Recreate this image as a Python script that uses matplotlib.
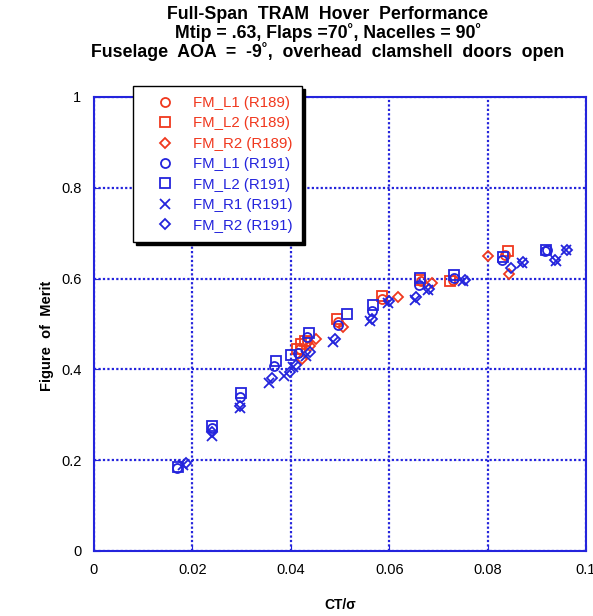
import matplotlib.pyplot as plt

plt.rcParams['font.family'] = ['Liberation Sans', 'DejaVu Sans']

RED = '#f0381e'
BLUE = '#2424dc'

# R189 run
l1_r189_x = [0.0418, 0.0432, 0.0495, 0.0585, 0.0665, 0.0730, 0.0835]
l1_r189_y = [0.445, 0.462, 0.505, 0.556, 0.595, 0.598, 0.652]
l2_r189_x = [0.0412, 0.0420, 0.0428, 0.0493, 0.0586, 0.0663, 0.0723, 0.0842]
l2_r189_y = [0.444, 0.455, 0.462, 0.511, 0.562, 0.597, 0.595, 0.661]
r2_r189_x = [0.0422, 0.0440, 0.0452, 0.0506, 0.0617, 0.0686, 0.0800, 0.0843]
r2_r189_y = [0.422, 0.452, 0.466, 0.494, 0.560, 0.590, 0.650, 0.610]

# R191 run
l1_r191_x = [0.0168, 0.0240, 0.0297, 0.0366, 0.0415, 0.0433, 0.0496, 0.0565,
             0.0660, 0.0731, 0.0829, 0.0916, 0.0920]
l1_r191_y = [0.182, 0.272, 0.339, 0.407, 0.436, 0.472, 0.497, 0.528,
             0.587, 0.601, 0.642, 0.660, 0.662]
l2_r191_x = [0.0170, 0.0240, 0.0298, 0.0370, 0.0400, 0.0437, 0.0514, 0.0567,
             0.0663, 0.0732, 0.0831, 0.0918]
l2_r191_y = [0.186, 0.276, 0.348, 0.418, 0.432, 0.481, 0.523, 0.542,
             0.601, 0.609, 0.648, 0.663]
r1_r191_x = [0.0180, 0.0240, 0.0297, 0.0356, 0.0386, 0.0405, 0.0430, 0.0485,
             0.0560, 0.0597, 0.0652, 0.0678, 0.0750, 0.0870, 0.0940, 0.0960]
r1_r191_y = [0.190, 0.253, 0.316, 0.371, 0.385, 0.405, 0.430, 0.460,
             0.506, 0.547, 0.553, 0.574, 0.594, 0.634, 0.638, 0.664]
r2_r191_x = [0.0187, 0.0240, 0.0297, 0.0362, 0.0398, 0.0410, 0.0440, 0.0490,
             0.0565, 0.0600, 0.0655, 0.0680, 0.0755, 0.0847, 0.0872, 0.0937, 0.0962]
r2_r191_y = [0.194, 0.262, 0.320, 0.380, 0.394, 0.410, 0.438, 0.468,
             0.510, 0.550, 0.560, 0.578, 0.598, 0.624, 0.636, 0.641, 0.662]

series = [
    (l1_r189_x, l1_r189_y, 'o', RED, 'FM_L1 (R189)'),
    (l2_r189_x, l2_r189_y, 's', RED, 'FM_L2 (R189)'),
    (r2_r189_x, r2_r189_y, 'D', RED, 'FM_R2 (R189)'),
    (l1_r191_x, l1_r191_y, 'o', BLUE, 'FM_L1 (R191)'),
    (l2_r191_x, l2_r191_y, 's', BLUE, 'FM_L2 (R191)'),
    (r1_r191_x, r1_r191_y, 'x', BLUE, 'FM_R1 (R191)'),
    (r2_r191_x, r2_r191_y, 'D', BLUE, 'FM_R2 (R191)'),
]

fig = plt.figure(figsize=(5.93, 6.16), dpi=100)
ax = fig.add_axes([94 / 593, 1 - 551 / 616, 492 / 593, 454 / 616])

for x, y, m, c, lab in series:
    ms = 5 if m == 'D' else 6.5
    ax.plot(x, y, linestyle='none', marker=m, markersize=ms, markerfacecolor='none',
            markeredgecolor=c, markeredgewidth=1.3, label=lab, zorder=3)

ax.set_xlim(0, 0.1)
ax.set_ylim(0, 1)
ax.set_xticks([0, 0.02, 0.04, 0.06, 0.08, 0.1])
ax.set_xticklabels(['0', '0.02', '0.04', '0.06', '0.08', '0.1'])
ax.set_yticks([0, 0.2, 0.4, 0.6, 0.8, 1])
ax.set_yticklabels(['0', '0.2', '0.4', '0.6', '0.8', '1'])
ax.grid(True, color=BLUE, linestyle=(0, (1, 1)), linewidth=1.6)
for s in ax.spines.values():
    s.set_color(BLUE)
    s.set_linewidth(1.5)
ax.tick_params(direction='in', length=4, color=BLUE, labelsize=10.5, pad=9)

ax.set_xlabel('CT/σ', fontsize=10, fontweight='bold', labelpad=15)
ax.set_ylabel('Figure  of  Merit', fontsize=10.5, fontweight='bold')
ax.yaxis.set_label_coords(-0.082, 0.474)
fig.text(0.553, 0.991,
         'Full-Span  TRAM  Hover  Performance\n'
         'Mtip = .63, Flaps =70˚, Nacelles = 90˚\n'
         'Fuselage  AOA  =  -9˚,  overhead  clamshell  doors  open',
         ha='center', va='top', fontsize=12.8, fontweight='bold', linespacing=1.02)

leg = ax.legend(loc='upper left', bbox_to_anchor=(0.079, 1.024), borderaxespad=0,
                fontsize=10.8, fancybox=False, framealpha=1, edgecolor='black',
                handletextpad=0.35, labelspacing=0.43, borderpad=0.65,
                handlelength=3.0, labelcolor='markeredgecolor',
                shadow={'facecolor': 'black', 'edgecolor': 'black', 'alpha': 1})
leg.get_frame().set_linewidth(1.0)

fig.savefig('out.png', dpi=100)
